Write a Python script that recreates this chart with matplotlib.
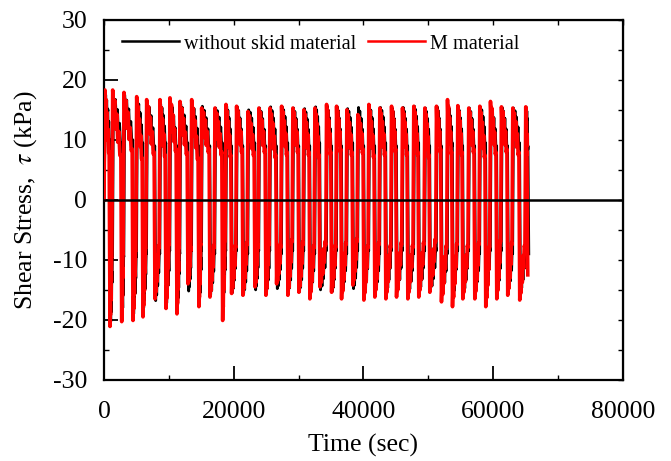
import numpy as np
import matplotlib
matplotlib.use("Agg")
import matplotlib.pyplot as plt
from matplotlib.lines import Line2D
from matplotlib.ticker import MultipleLocator, FuncFormatter

plt.rcParams['font.family'] = ['Liberation Serif', 'DejaVu Serif']
plt.rcParams['mathtext.fontset'] = 'stix'
plt.rcParams['axes.unicode_minus'] = False

# --- cyclic shear test, M material (red) ---
red_peak_t = [150, 1340, 3080, 5040, 6580, 8630, 10170, 11720, 13520, 15060,
              17110, 18810, 20450, 22200, 23890, 25590, 27390, 29130, 30830, 32530,
              34330, 35870, 37460, 39150, 40850, 42540, 44350, 46040, 47780, 49480,
              51280, 52980, 54570, 56260, 57960, 59610, 61300, 63050, 65050]
red_peak = [18.3, 18.3, 17.9, 17.2, 16.7, 16.7, 17.0, 16.4, 16.7, 15.3,
            15.3, 15.9, 15.6, 14.7, 15.3, 15.3, 15.6, 15.3, 15.0, 15.3,
            15.9, 15.6, 15.0, 14.2, 15.9, 15.3, 15.6, 15.3, 15.6, 15.3,
            15.6, 16.7, 15.7, 15.3, 15.6, 16.4, 15.5, 15.3, 15.5]
red_trough_t = [925, 2730, 4470, 6010, 7860, 9560, 11250, 12950, 14640, 16340,
                18300, 19680, 21430, 23280, 24970, 26620, 28360, 30060, 31750, 33290,
                35100, 36640, 38380, 40080, 41770, 43470, 45120, 46860, 48550, 50250,
                52050, 53750, 55340, 57190, 58880, 60580, 62270, 64120]
red_trough = [-21.1, -20.3, -20.1, -19.5, -16.5, -18.1, -19.0, -14.0, -17.8, -16.2,
              -20.1, -15.6, -15.9, -14.5, -15.9, -14.0, -15.9, -15.4, -16.5, -14.5,
              -15.4, -16.5, -14.2, -16.7, -16.2, -16.5, -16.2, -16.5, -16.2, -15.4,
              -17.0, -17.8, -16.5, -16.5, -17.8, -16.5, -15.9, -16.7]
red_pos_rel = [8.0, 7.5, 8.5, 7.0, 8.0, 7.5, 8.5, 8.0, 7.0, 8.5,
               8.0, 7.5, 8.5, 8.0, 8.5, 7.5, 8.0, 8.5, 8.0, 7.5,
               8.0, 8.5, 8.0, 8.5, 7.5, 8.0, 8.5, 8.0, 8.0, 7.5,
               8.5, 8.0, 8.0, 8.5, 7.5, 8.0, 8.5, 8.0, 8.0]
red_neg_rel = [-9.5, -9.0, -8.5, -8.0, -8.0, -7.5, -8.0, -8.5, -7.5, -8.0,
               -7.0, -8.0, -7.5, -8.0, -7.5, -8.0, -7.0, -7.5, -8.0, -7.5,
               -8.0, -7.5, -7.0, -8.0, -7.5, -8.0, -7.5, -8.0, -7.5, -7.0,
               -8.0, -7.5, -8.0, -7.5, -8.0, -7.0, -7.5, -8.0]
red_end = (65360, -12.5)

# --- without skid material (black), same loading, lags slightly ---
blk_lag = 110
blk_peak = [17.5, 17.8, 17.5, 16.8, 16.3, 16.0, 16.3, 16.0, 16.0, 15.6,
            15.3, 15.6, 15.5, 15.0, 15.3, 15.5, 15.5, 15.3, 15.2, 15.5,
            15.6, 15.5, 15.2, 15.4, 15.6, 15.4, 15.3, 15.4, 15.6, 15.3,
            15.5, 15.8, 15.5, 15.3, 15.5, 15.6, 15.4, 15.3, 15.4]
blk_trough = [-20.3, -19.5, -19.0, -18.0, -16.8, -17.2, -17.5, -15.2, -16.5, -15.8,
              -16.5, -15.5, -15.6, -15.0, -15.5, -14.8, -15.4, -15.3, -15.6, -15.0,
              -15.3, -15.5, -14.8, -15.6, -15.5, -15.4, -15.3, -15.5, -15.2, -15.0,
              -15.8, -16.0, -15.5, -15.4, -16.0, -15.5, -15.2, -15.4]
blk_pos_rel = [10.0, 9.5, 10.0, 9.5, 9.0, 9.5, 9.0, 9.5, 9.0, 9.0,
               9.5, 9.0, 9.0, 9.5, 9.0, 9.0, 9.5, 9.0, 9.0, 9.5,
               9.0, 9.0, 9.5, 9.0, 9.0, 9.5, 9.0, 9.0, 9.5, 9.0,
               9.0, 9.5, 9.0, 9.0, 9.5, 9.0, 9.0, 9.5, 9.0]
blk_neg_rel = [-10.0, -9.5, -9.5, -9.0, -9.0, -8.5, -9.0, -8.5, -8.5, -9.0,
               -8.5, -8.5, -9.0, -8.5, -8.5, -9.0, -8.5, -8.5, -9.0, -8.5,
               -8.5, -9.0, -8.5, -8.5, -9.0, -8.5, -8.5, -9.0, -8.5, -8.5,
               -9.0, -8.5, -8.5, -9.0, -8.5, -8.5, -9.0, -8.5]
blk_end = (65520, -9.0)

# load-cell chatter while the stress relaxes in each stroke
wig_f = [0.0, 0.12, 0.25, 0.38, 0.5, 0.62, 0.75, 0.88, 1.0]
wig_d = [0.0, -2.4, 1.0, -2.4, 1.4, -2.0, 1.2, -1.4, 0.0]
gap = 130


def build(peak_t, peak_v, trough_t, trough_v, pos_rel, neg_rel, end, lag=0):
    t, v = [0.0], [0.0]

    def stroke(ta, tb, hi, lo, sgn):
        for f, d in zip(wig_f, wig_d):
            t.append(ta + f * (tb - ta))
            v.append(hi + f * (lo - hi) + sgn * d)

    for i in range(len(peak_t)):
        tp = peak_t[i] + lag
        if i < len(trough_t):
            tt = trough_t[i] + lag
            stroke(tp, tt - gap, peak_v[i], pos_rel[i], 1)
            nxt = peak_t[i + 1] + lag
            stroke(tt, nxt - gap, trough_v[i], neg_rel[i], -1)
        else:
            stroke(tp, end[0] - gap, peak_v[i], pos_rel[i], 1)
            t.append(end[0])
            v.append(end[1])
    return np.array(t), np.array(v)


t_red, s_red = build(red_peak_t, red_peak, red_trough_t, red_trough,
                     red_pos_rel, red_neg_rel, red_end)
t_blk, s_blk = build(red_peak_t, blk_peak, red_trough_t, blk_trough,
                     blk_pos_rel, blk_neg_rel, blk_end, lag=blk_lag)

fig = plt.figure(figsize=(6.71, 4.61), dpi=100)
ax = fig.add_axes([0.155, 0.176, 0.773, 0.781])

ax.plot(t_blk, s_blk, color='black', lw=2.0, zorder=2)
ax.plot(t_red, s_red, color='#ff0000', lw=2.6, zorder=3)
ax.axhline(0, color='black', lw=1.8, zorder=4)

ax.set_xlim(0, 80000)
ax.set_ylim(-30, 30)
ax.xaxis.set_major_locator(MultipleLocator(20000))
ax.xaxis.set_minor_locator(MultipleLocator(10000))
ax.yaxis.set_major_locator(MultipleLocator(10))
ax.yaxis.set_minor_locator(MultipleLocator(5))
ax.yaxis.set_major_formatter(FuncFormatter(lambda y, p: '%d' % y))
ax.tick_params(which='major', direction='in', length=10, width=1.3,
               labelsize=18.5)
ax.tick_params(axis='x', which='major', pad=15)
ax.tick_params(axis='y', which='major', pad=12)
ax.tick_params(which='minor', direction='in', length=3.5, width=1.0)

# short ticks on the top and right frame
top = ax.secondary_xaxis('top')
top.set_xticks(np.arange(0, 80001, 10000))
top.tick_params(direction='in', length=3.5, width=1.0, labeltop=False)
rgt = ax.secondary_yaxis('right')
rgt.set_yticks(np.arange(-30, 31, 5))
rgt.tick_params(direction='in', length=3.5, width=1.0, labelright=False)

for s in ax.spines.values():
    s.set_linewidth(1.6)

ax.set_xlabel('Time (sec)', fontsize=18.5, labelpad=8)
ax.set_ylabel(r'Shear Stress,  $\tau$ (kPa)', fontsize=18.5, labelpad=10)

handles = [Line2D([], [], color='black', lw=1.8),
           Line2D([], [], color='#ff0000', lw=1.8)]
ax.legend(handles, ['without skid material', 'M material'], ncol=2,
          loc='center left', bbox_to_anchor=(0.035, 0.933), frameon=False,
          fontsize=14.6, handlelength=2.8, handletextpad=0.25,
          columnspacing=0.6, borderpad=0, borderaxespad=0)

fig.savefig('out.png', dpi=100)
